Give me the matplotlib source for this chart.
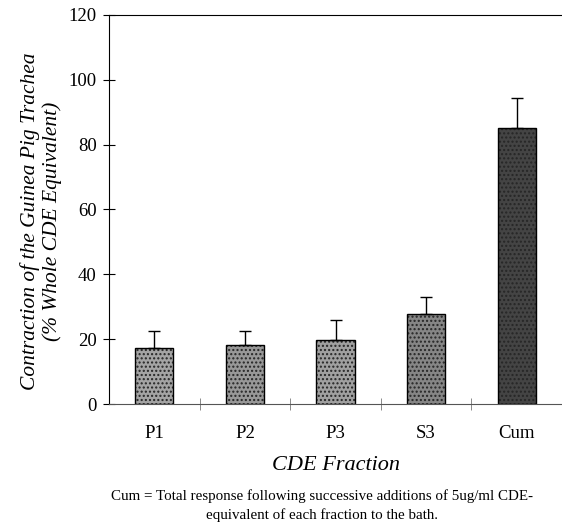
import matplotlib.pyplot as plt

fractions = ["P1", "P2", "P3", "S3", "Cum"]
contraction = [17.2, 18.3, 19.8, 27.8, 85.0]
sem_upper = [5.2, 4.3, 6.1, 5.1, 9.5]
bar_colors = ["#a4a4a4", "#989898", "#a0a0a0", "#868686", "#444444"]

plt.rcParams['font.family'] = ['Liberation Serif', 'DejaVu Serif']

fig = plt.figure(figsize=(5.62, 5.31), dpi=100)
ax = fig.add_axes([0.194, 0.239, 0.806, 0.733])

x = list(range(len(fractions)))
bars = ax.bar(x, contraction, width=0.42, color=bar_colors,
              edgecolor="black", linewidth=1.0, hatch="....",
              yerr=[[0] * len(sem_upper), sem_upper],
              error_kw=dict(ecolor="black", elinewidth=1.0, capsize=4, capthick=1.0))
for b in bars:
    b._hatch_color = (0.15, 0.15, 0.15, 1.0)

ax.set_xlim(-0.5, 4.5)
ax.set_ylim(0, 120)
ax.set_yticks(range(0, 121, 20))
ax.tick_params(axis='y', direction='inout', length=8, labelsize=13.5, pad=5)
ax.set_xticks(x)
ax.set_xticklabels(fractions, fontsize=13.5)
ax.tick_params(axis='x', which='major', length=0, pad=15)
ax.set_xticks([0.5, 1.5, 2.5, 3.5], minor=True)
ax.tick_params(axis='x', which='minor', direction='inout', length=9, color='#777777')

ax.spines['right'].set_visible(False)
ax.spines['bottom'].set_color('#555555')

ax.set_ylabel("Contraction of the Guinea Pig Trachea\n(% Whole CDE Equivalent)",
              fontsize=15.5, style='italic', linespacing=1.15)
ax.yaxis.set_label_coords(-0.104, 0.47)
ax.set_xlabel("CDE Fraction", fontsize=16, style='italic', labelpad=10)

fig.text(0.573, 0.058, "Cum = Total response following successive additions of 5ug/ml CDE-",
         ha='center', fontsize=10.8)
fig.text(0.573, 0.022, "equivalent of each fraction to the bath.", ha='center', fontsize=10.8)

fig.savefig("out.png", dpi=100)
